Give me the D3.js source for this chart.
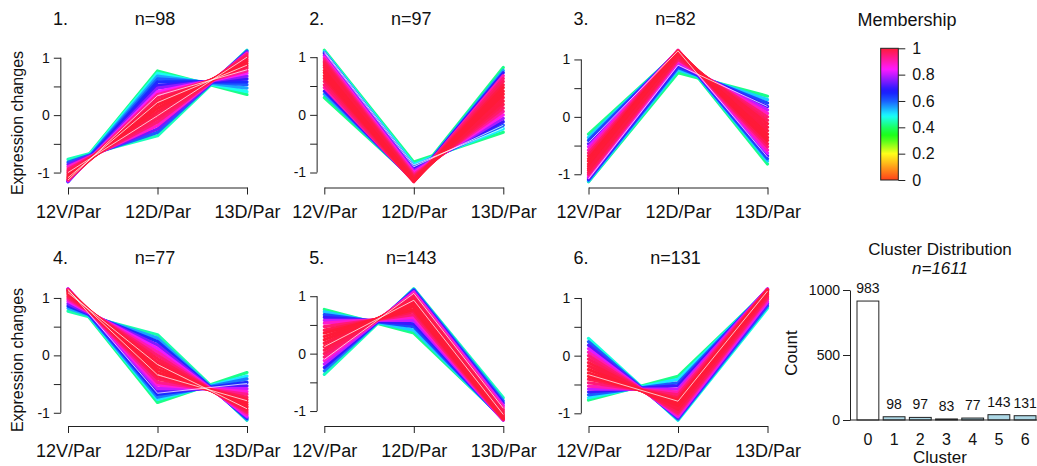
<!DOCTYPE html>
<html><head><meta charset="utf-8">
<script src="https://cdn.jsdelivr.net/npm/d3@7"></script>
<style>
body{margin:0;background:#fff}
svg{display:block}
text{font-family:"Liberation Sans",Arial,Helvetica,sans-serif;fill:#111}
</style>
</head><body>
<svg id="chart" width="1037" height="466"></svg>
<script>
// ---------------- DATA ----------------
const timepoints = ["12V/Par", "12D/Par", "13D/Par"];
const clusterNames = ["1.", "2.", "3.", "4.", "5.", "6."];
const clusterSizes = [98, 97, 82, 77, 143, 131];

// each line: [12V/Par, 12D/Par, 13D/Par, membership]
const panel1Lines = [
  [-1.13, 0.77, 0.36, 0.42], [-1.14, 0.73, 0.41, 0.48], [-1.15, 0.68, 0.47, 0.55],
  [-1.15, 0.63, 0.53, 0.60], [-1.16, 0.58, 0.58, 0.65], [-1.15, 0.52, 0.63, 0.70],
  [-1.15, 0.47, 0.68, 0.76], [-1.14, 0.41, 0.73, 0.84], [-1.13, 0.36, 0.77, 0.92],
  [-1.12, 0.30, 0.82, 0.97], [-1.10, 0.24, 0.86, 0.99], [-1.08, 0.18, 0.90, 1.00],
  [-1.06, 0.12, 0.94, 1.00], [-1.03, 0.06, 0.97, 0.99], [-1.00, 0.00, 1.00, 0.98],
  [-0.97, -0.06, 1.03, 0.97], [-0.94, -0.12, 1.06, 0.95], [-0.90, -0.18, 1.08, 0.88],
  [-0.86, -0.24, 1.10, 0.74], [-0.82, -0.30, 1.12, 0.60], [-0.77, -0.36, 1.13, 0.45]
];
const panel2Lines = [
  [0.30, -1.12, 0.82, 0.42], [0.36, -1.13, 0.77, 0.55], [0.41, -1.14, 0.73, 0.70],
  [0.47, -1.15, 0.68, 0.90], [0.52, -1.15, 0.63, 0.95], [0.58, -1.16, 0.58, 0.97],
  [0.63, -1.15, 0.52, 0.99], [0.68, -1.15, 0.47, 1.00], [0.73, -1.14, 0.41, 1.00],
  [0.77, -1.13, 0.36, 1.00], [0.82, -1.12, 0.30, 0.99], [0.86, -1.10, 0.24, 0.99],
  [0.90, -1.08, 0.18, 0.98], [0.93, -1.06, 0.12, 0.96], [0.97, -1.03, 0.06, 0.92],
  [1.00, -1.00, 0.00, 0.86], [1.03, -0.97, -0.06, 0.78], [1.06, -0.93, -0.12, 0.70],
  [1.08, -0.90, -0.18, 0.60], [1.10, -0.86, -0.24, 0.50], [1.12, -0.82, -0.30, 0.42]
];
const panel3Lines = [
  [-0.30, 1.12, -0.82, 0.42], [-0.36, 1.13, -0.77, 0.52], [-0.41, 1.14, -0.73, 0.62],
  [-0.47, 1.15, -0.68, 0.72], [-0.52, 1.15, -0.63, 0.82], [-0.58, 1.16, -0.58, 0.90],
  [-0.63, 1.15, -0.52, 0.95], [-0.68, 1.15, -0.47, 0.98], [-0.73, 1.14, -0.41, 1.00],
  [-0.77, 1.13, -0.36, 1.00], [-0.82, 1.12, -0.30, 1.00], [-0.86, 1.10, -0.24, 0.99],
  [-0.90, 1.08, -0.18, 0.99], [-0.93, 1.06, -0.12, 0.99], [-0.97, 1.03, -0.06, 0.97],
  [-1.00, 1.00, 0.00, 0.95], [-1.03, 0.97, 0.06, 0.88], [-1.06, 0.93, 0.12, 0.80],
  [-1.08, 0.90, 0.18, 0.70], [-1.10, 0.86, 0.24, 0.62], [-1.12, 0.82, 0.30, 0.52],
  [-1.13, 0.77, 0.36, 0.42]
];
const panel4Lines = [
  [1.12, -0.82, -0.30, 0.42], [1.13, -0.77, -0.36, 0.50], [1.14, -0.73, -0.41, 0.58],
  [1.15, -0.68, -0.47, 0.65], [1.15, -0.63, -0.53, 0.72], [1.16, -0.58, -0.58, 0.80],
  [1.15, -0.52, -0.63, 0.87], [1.15, -0.47, -0.68, 0.93], [1.14, -0.41, -0.73, 0.97],
  [1.13, -0.36, -0.77, 0.99], [1.12, -0.30, -0.82, 1.00], [1.10, -0.24, -0.86, 1.00],
  [1.08, -0.18, -0.90, 1.00], [1.06, -0.12, -0.94, 0.99], [1.03, -0.06, -0.97, 0.98],
  [1.00, 0.00, -1.00, 0.95], [0.97, 0.06, -1.03, 0.90], [0.94, 0.12, -1.06, 0.83],
  [0.90, 0.18, -1.08, 0.75], [0.86, 0.24, -1.10, 0.65], [0.82, 0.30, -1.12, 0.55],
  [0.77, 0.36, -1.13, 0.44]
];
const panel5Lines = [
  [0.77, 0.36, -1.13, 0.42], [0.73, 0.41, -1.14, 0.52], [0.68, 0.47, -1.15, 0.62],
  [0.63, 0.52, -1.15, 0.70], [0.58, 0.58, -1.16, 0.80], [0.53, 0.63, -1.15, 0.88],
  [0.47, 0.68, -1.15, 0.95], [0.41, 0.73, -1.14, 0.98], [0.36, 0.77, -1.13, 1.00],
  [0.30, 0.82, -1.12, 1.00], [0.24, 0.86, -1.10, 1.00], [0.18, 0.90, -1.08, 0.99],
  [0.12, 0.93, -1.06, 0.99], [0.06, 0.97, -1.03, 0.98], [0.00, 1.00, -1.00, 0.97],
  [-0.06, 1.03, -0.97, 0.95], [-0.12, 1.06, -0.93, 0.88], [-0.18, 1.08, -0.90, 0.80],
  [-0.24, 1.10, -0.86, 0.70], [-0.30, 1.12, -0.82, 0.58], [-0.36, 1.13, -0.77, 0.45]
];
const panel6Lines = [
  [-0.77, -0.36, 1.13, 0.42], [-0.73, -0.41, 1.14, 0.50], [-0.68, -0.47, 1.15, 0.60],
  [-0.63, -0.52, 1.15, 0.70], [-0.58, -0.58, 1.16, 0.80], [-0.53, -0.63, 1.15, 0.90],
  [-0.47, -0.68, 1.15, 0.95], [-0.41, -0.73, 1.14, 0.98], [-0.36, -0.77, 1.13, 1.00],
  [-0.30, -0.82, 1.12, 1.00], [-0.24, -0.86, 1.10, 1.00], [-0.18, -0.90, 1.08, 0.99],
  [-0.12, -0.93, 1.06, 0.99], [-0.06, -0.97, 1.03, 0.97], [0.00, -1.00, 1.00, 0.95],
  [0.06, -1.03, 0.97, 0.90], [0.12, -1.06, 0.93, 0.82], [0.18, -1.08, 0.90, 0.72],
  [0.24, -1.10, 0.86, 0.60], [0.30, -1.12, 0.82, 0.47]
];
// thin white profiles visible inside the bands
const panel1White = [[-1.13, 0.34, 0.79], [-1.09, 0.22, 0.87], [-1.00, -0.01, 1.01]];
const panel2White = [[1.08, -0.90, -0.18], [1.10, -0.87, -0.23]];
const panel3White = [[-0.45, 1.15, -0.70], [-1.08, 0.90, 0.18]];
const panel4White = [[1.09, -0.16, -0.93], [1.13, -0.34, -0.79], [1.15, -0.66, -0.49]];
const panel5White = [[0.12, 0.93, -1.06], [-0.10, 1.05, -0.95]];
const panel6White = [[-0.33, -0.79, 1.12]];

const panelLines = [panel1Lines, panel2Lines, panel3Lines, panel4Lines, panel5Lines, panel6Lines];
const panelWhite = [panel1White, panel2White, panel3White, panel4White, panel5White, panel6White];

const yTicks = [-1, -0.5, 0, 0.5, 1];
const legendTicks = [0, 0.2, 0.4, 0.6, 0.8, 1];

const barClusters = ["0", "1", "2", "3", "4", "5", "6"];
const barHeights = [915, 25, 20, 8, 15, 41, 33];
const barCountLabels = ["983", "98", "97", "83", "77", "143", "131"];
const barTicks = [0, 500, 1000];

// ---------------- DRAW ----------------
const svg = d3.select("#chart");
const axisColor = "#222";

const hueScale = d3.scaleLinear()
  .domain([0, 0.1, 0.2, 0.3, 0.4, 0.5, 0.6, 0.7, 0.8, 0.9, 1])
  .range([10, 35, 60, 105, 140, 185, 222, 248, 285, 320, 352]);
function memColor(m) { return d3.hsl(hueScale(m), 1, 0.55).formatHex(); }

const colX0 = [68, 324.3, 588.5];
const plotW = 179;
const rowTop = [45, 283.5];
const rowBottom = [187, 425.5];
const rowTitleBase = [25, 264];

function styleAxis(g) {
  g.selectAll("path,line").attr("stroke", axisColor).attr("stroke-width", 1);
  g.selectAll("text").attr("fill", "#111");
}

panelLines.forEach((lines, i) => {
  const col = i % 3, row = Math.floor(i / 3);
  const x0 = colX0[col];
  const top = rowTop[row], bottom = rowBottom[row];
  const x = d3.scalePoint().domain(timepoints).range([x0, x0 + plotW]);
  const allVals = lines.flatMap(d => d.slice(0, 3)).concat(panelWhite[i].flat());
  const [lo, hi] = d3.extent(allVals);
  const pad = (hi - lo) * 0.04;
  const y = d3.scaleLinear().domain([lo - pad, hi + pad]).range([bottom, top]);
  const axisX = x0 - plotW * 0.04;

  const g = svg.append("g");
  const lineGen = d3.line().x((d, j) => x(timepoints[j])).y(d => y(d));

  const sorted = lines.slice().sort((a, b) => a[3] - b[3]);
  g.selectAll("path.prof").data(sorted).join("path")
    .attr("class", "prof")
    .attr("d", d => lineGen(d.slice(0, 3)))
    .attr("fill", "none")
    .attr("stroke", d => memColor(d[3]))
    .attr("stroke-width", 3.2)
    .attr("stroke-linejoin", "round")
    .attr("stroke-linecap", "round");

  g.selectAll("path.white").data(panelWhite[i]).join("path")
    .attr("class", "white")
    .attr("d", d => lineGen(d))
    .attr("fill", "none")
    .attr("stroke", "#fff")
    .attr("stroke-opacity", 0.9)
    .attr("stroke-width", 0.8);

  // y axis
  const ya = svg.append("g").attr("transform", `translate(${axisX},0)`)
    .call(d3.axisLeft(y).tickValues(yTicks).tickSize(7).tickPadding(4)
      .tickFormat(d => Number.isInteger(d) ? String(d) : ""));
  ya.select(".domain").remove();
  ya.append("line").attr("x1", 0).attr("x2", 0)
    .attr("y1", y(-1)).attr("y2", y(1));
  ya.selectAll("text").attr("font-size", 14).attr("font-family", "Liberation Sans, Arial, sans-serif");
  styleAxis(ya);

  // x axis
  const xa = svg.append("g").attr("transform", `translate(0,${bottom + 0.5})`)
    .call(d3.axisBottom(x).tickSize(7).tickSizeOuter(0).tickPadding(11));
  xa.selectAll("text").attr("font-size", 18).attr("font-family", "Liberation Sans, Arial, sans-serif");
  styleAxis(xa);

  // titles
  svg.append("text").attr("x", x0 - 15).attr("y", rowTitleBase[row])
    .attr("font-size", 18).text(clusterNames[i]);
  svg.append("text").attr("x", x0 + 87).attr("y", rowTitleBase[row])
    .attr("font-size", 18).attr("text-anchor", "middle").text("n=" + clusterSizes[i]);

  if (col === 0) {
    const cy = row === 0 ? 123 : 360;
    svg.append("text").attr("transform", `translate(23,${cy}) rotate(-90)`)
      .attr("font-size", 16).attr("text-anchor", "middle").text("Expression changes");
  }
});

// ---------------- Membership legend ----------------
const defs = svg.append("defs");
const grad = defs.append("linearGradient").attr("id", "memGrad")
  .attr("x1", 0).attr("y1", 1).attr("x2", 0).attr("y2", 0);
d3.range(0, 1.0001, 0.02).forEach(t => {
  grad.append("stop").attr("offset", t).attr("stop-color", memColor(t));
});
const ly = d3.scaleLinear().domain([0, 1]).range([180, 48.3]);
svg.append("rect").attr("x", 880.7).attr("y", ly(1)).attr("width", 17.6)
  .attr("height", ly(0) - ly(1)).attr("fill", "url(#memGrad)")
  .attr("stroke", "#222").attr("stroke-width", 1);
const la = svg.append("g").attr("transform", "translate(898.3,0)")
  .call(d3.axisRight(ly).tickValues(legendTicks).tickSize(7).tickPadding(7)
    .tickFormat(d => String(d)));
la.select(".domain").remove();
la.selectAll("text").attr("font-size", 16).attr("font-family", "Liberation Sans, Arial, sans-serif");
styleAxis(la);
svg.append("text").attr("x", 907).attr("y", 26).attr("font-size", 18)
  .attr("text-anchor", "middle").text("Membership");

// ---------------- Cluster distribution ----------------
const by = d3.scaleLinear().domain([0, 1000]).range([420, 290]);
const bx = d3.scaleBand().domain(barClusters).range([857, 1036]).paddingInner(1 / 6);
const bars = svg.append("g");
bars.selectAll("rect").data(barClusters).join("rect")
  .attr("x", d => bx(d))
  .attr("y", (d, i) => by(barHeights[i]))
  .attr("width", bx.bandwidth())
  .attr("height", (d, i) => by(0) - by(barHeights[i]))
  .attr("fill", (d, i) => i === 0 ? "#ffffff" : "#add8e6")
  .attr("stroke", "#222").attr("stroke-width", 1);
svg.append("line").attr("x1", 850).attr("x2", 1037).attr("y1", by(0)).attr("y2", by(0))
  .attr("stroke", "#222");
bars.selectAll("text.cnt").data(barClusters).join("text")
  .attr("class", "cnt")
  .attr("x", d => bx(d) + bx.bandwidth() / 2)
  .attr("y", (d, i) => by(barHeights[i]) - 8)
  .attr("text-anchor", "middle").attr("font-size", 14)
  .text((d, i) => barCountLabels[i]);
bars.selectAll("text.cl").data(barClusters).join("text")
  .attr("class", "cl")
  .attr("x", d => bx(d) + bx.bandwidth() / 2)
  .attr("y", 445)
  .attr("text-anchor", "middle").attr("font-size", 16)
  .text(d => d);
const bya = svg.append("g").attr("transform", "translate(850,0)")
  .call(d3.axisLeft(by).tickValues(barTicks).tickSize(7).tickSizeOuter(0).tickPadding(3)
    .tickFormat(d => String(d)));
bya.selectAll("text").attr("font-size", 14).attr("font-family", "Liberation Sans, Arial, sans-serif");
styleAxis(bya);
svg.append("text").attr("x", 940).attr("y", 255).attr("font-size", 17)
  .attr("text-anchor", "middle").text("Cluster Distribution");
svg.append("text").attr("x", 940).attr("y", 274).attr("font-size", 17)
  .attr("text-anchor", "middle").attr("font-style", "italic").text("n=1611");
svg.append("text").attr("x", 940).attr("y", 463).attr("font-size", 17)
  .attr("text-anchor", "middle").text("Cluster");
svg.append("text").attr("transform", "translate(797,353) rotate(-90)")
  .attr("font-size", 17).attr("text-anchor", "middle").text("Count");
</script>
</body></html>
